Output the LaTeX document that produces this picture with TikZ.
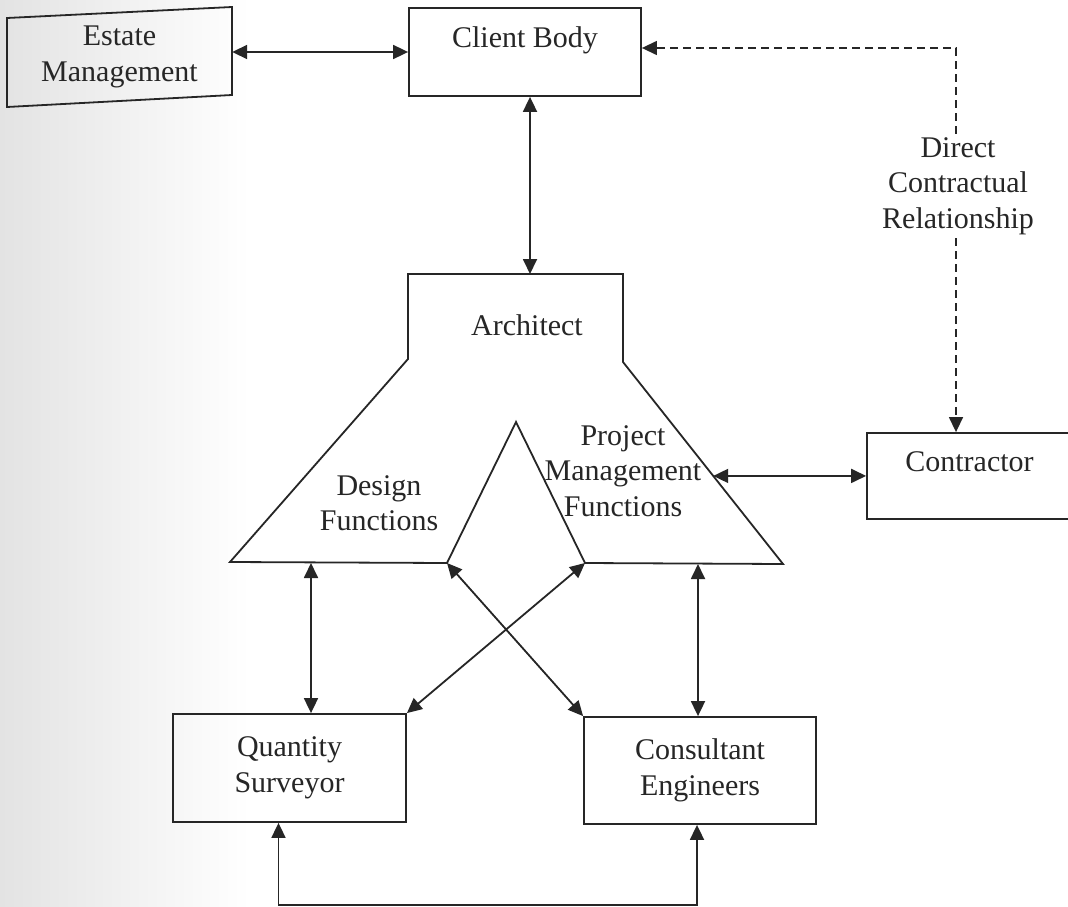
\documentclass[tikz,border=0pt]{standalone}
\usepackage{fontspec}
\setmainfont{Liberation Serif}
\usetikzlibrary{arrows.meta,calc}

\tikzset{
  box/.style={draw=black!85, line width=1.8pt, rectangle, inner sep=0pt, align=center},
  link/.style={draw=black!85, line width=1.8pt,
    {Triangle[length=15pt,width=14pt]}-{Triangle[length=15pt,width=14pt]}},
  contract/.style={draw=black!85, line width=1.4pt, dash pattern=on 8pt off 5pt},
  tip/.style={-{Triangle[length=15pt,width=14pt]}},
}

\begin{document}
\begin{tikzpicture}[x=1pt, y=-1pt, font=\fontsize{30}{35.5}\selectfont, text=black!85]

  \useasboundingbox (0,0) rectangle (1068,907);
  \fill[white] (0,0) rectangle (1068,907);
  \shade[left color=black!11, right color=white] (0,0) rectangle (250,907);

  % estate management (scanned a little askew)
  \node[align=center, inner sep=0pt, minimum width=225pt, minimum height=90pt] (estate) at (119.5,57) {Estate\\Management};
  \draw[black!85, line width=1.8pt] (7,18) -- (232,7) -- (232,95) -- (7,107) -- cycle;

  % client body
  \node[box, minimum width=232pt, minimum height=88pt, label={[yshift=12pt]center:Client Body}] (client) at (525,52) {};

  % contractor
  \node[box, minimum width=205pt, minimum height=86pt, label={[yshift=14pt]center:Contractor}] (contractor) at (969.5,476) {};

  % architect
  \coordinate (archtl) at (408,274);
  \coordinate (archtr) at (623,274);
  \coordinate (archsr) at (623,362);
  \coordinate (archbr) at (783,564);
  \coordinate (trir) at (585,563);
  \coordinate (triapex) at (516,422);
  \coordinate (tril) at (447,563);
  \coordinate (archbl) at (230,562);
  \coordinate (archsl) at (408,359);
  \draw[black!85, line width=1.8pt, line join=miter] (archtl) -- (archtr) -- (archsr) -- (archbr) -- (trir)
    -- (triapex) -- (tril) -- (archbl) -- (archsl) -- cycle;
  \node (arch) at (527,325) {Architect};
  \node[align=center] (design) at (379,503) {Design\\Functions};
  \node[align=center] (pm) at (623,471) {Project\\Management\\Functions};
  \coordinate (archtop) at (530,274);
  \coordinate (dfbase) at (311,563);
  \coordinate (pmbase) at (698,564);
  \coordinate (pmside) at ($(archsr)!0.564!(archbr)$);

  % quantity surveyor and engineers
  \node[box, minimum width=233pt, minimum height=108pt] (qs) at (289.5,768) {Quantity\\Surveyor};
  \node[box, minimum width=232pt, minimum height=107pt] (ce) at (700,770.5) {Consultant\\Engineers};

  % direct contractual relationship
  \coordinate (dcorner) at (956,48);
  \node[align=center] (dcr) at (958,186) {Direct\\Contractual\\Relationship};

  % links
  \draw[link] (estate.east |- client.west) -- (client.west);
  \draw[link] (client.south -| archtop) -- (archtop);
  \draw[link] (pmside) -- (contractor.west |- pmside);
  \draw[link] (dfbase) -- (qs.north -| dfbase);
  \draw[link] (tril) -- (ce.north west);
  \draw[link] (trir) -- (qs.north east);
  \draw[link] (pmbase) -- (ce.north -| pmbase);
  \draw[link] ([xshift=-11pt]qs.south) -- ++(0,82) -| ([xshift=-3pt]ce.south);
  \draw[contract, tip] (dcr.north -| dcorner) -- (dcorner) -- (client.east |- dcorner);
  \draw[contract, tip] (dcr.south -| dcorner) -- (contractor.north -| dcorner);

\end{tikzpicture}
\end{document}
